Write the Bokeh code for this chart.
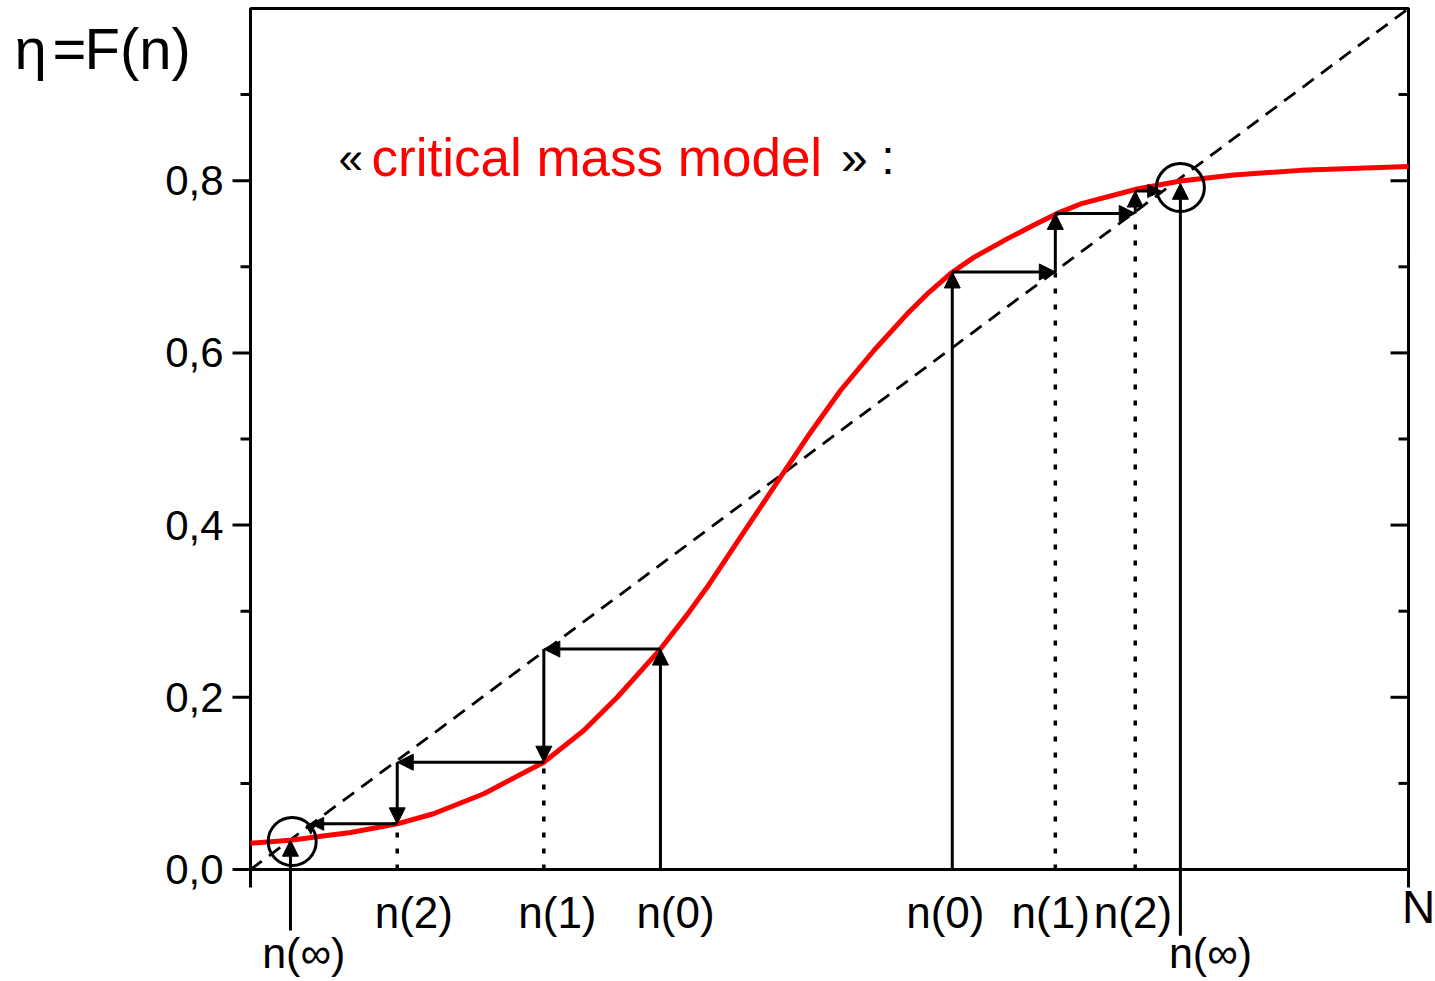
import math
from bokeh.plotting import figure
from bokeh.models import Range1d, Arrow, NormalHead
from bokeh.core.properties import value
from bokeh.embed import file_html
from bokeh.resources import INLINE

# ---- data ----
curve_x = [0.0, 0.0345, 0.0576, 0.0864, 0.1267, 0.158, 0.2015, 0.2533, 0.2878, 0.3167,
           0.354, 0.3771, 0.3944, 0.4231, 0.4577, 0.4807, 0.495, 0.5095, 0.5383, 0.5671,
           0.5844, 0.606, 0.6246, 0.6534, 0.6765, 0.6966, 0.7168, 0.7657, 0.8031, 0.849,
           0.9067, 1.0]
curve_y = [0.0305, 0.034, 0.038, 0.043, 0.053, 0.0647, 0.088, 0.1246, 0.1614, 0.200,
           0.256, 0.296, 0.328, 0.386, 0.4556, 0.502, 0.529, 0.5563, 0.6028, 0.6454,
           0.6685, 0.6937, 0.711, 0.7324, 0.7485, 0.762, 0.773, 0.7904, 0.7997, 0.8066,
           0.812, 0.8165]

diag_x = [0.0, 1.0]
diag_y = [0.0, 1.0]

left_n = [0.354, 0.2533, 0.1267, 0.052]     # n(0), n(1), n(2), n(3)
left_F = [0.256, 0.1246, 0.053, 0.041]      # F(n(k))
right_n = [0.606, 0.695, 0.764, 0.786]
right_F = [0.694, 0.762, 0.788, 0.788]

n_inf = [0.0345, 0.803]
n_inf_top = [0.034, 0.797]
n_inf_bottom = [-0.071, -0.077]
circle_x = [0.036, 0.803]
circle_y = [0.0325, 0.792]

x_lim = [0.0, 1.0]
y_lim = [0.0, 1.0]
y_ticks = [0.0, 0.2, 0.4, 0.6, 0.8]
y_minor = [0.1, 0.3, 0.5, 0.7, 0.9]
x_ticks = [0.0, 1.0]
y_tick_labels = [f"{t:.1f}".replace(".", ",") for t in y_ticks]

n_labels = ["n(2)", "n(1)", "n(0)", "n(0)", "n(1)", "n(2)"]
n_label_x = [0.141, 0.265, 0.367, 0.600, 0.691, 0.762]
inf_labels = ["n(\u221e)", "n(\u221e)"]
inf_label_x = [0.046, 0.829]

title_parts = ["\u03b7", "=", "F(n)"]
title_offsets = [-236, -198, -166]

FONT = "Liberation Sans"

# frame covers the whole window; data 0..1 sits at the axes box
p = figure(width=1435, height=981, x_range=Range1d(-0.2159, 1.0233),
           y_range=Range1d(-0.1301, 1.0093), x_axis_type=None, y_axis_type=None,
           output_backend="svg", toolbar_location=None, title=None,
           min_border=0, min_border_left=0, min_border_right=0,
           min_border_top=0, min_border_bottom=0)
p.background_fill_color = "white"
p.border_fill_color = "white"
p.outline_line_color = None

# axes box
p.quad(left=[x_lim[0]], right=[x_lim[1]], bottom=[y_lim[0]], top=[y_lim[1]],
       fill_color=None, line_color="black", line_width=3)

# left ticks (outside) and right ticks (inside)
for xv in (x_lim[0], x_lim[1]):
    p.ray(x=[xv] * len(y_ticks), y=y_ticks, length=18, length_units="screen",
          angle=math.pi, line_color="black", line_width=3)
    p.ray(x=[xv] * len(y_minor), y=y_minor, length=10, length_units="screen",
          angle=math.pi, line_color="black", line_width=3)
# bottom ticks
p.ray(x=x_ticks, y=[y_lim[0]] * len(x_ticks), length=18, length_units="screen",
      angle=-math.pi / 2, line_color="black", line_width=3)

# tick labels
p.text(x=[x_lim[0]] * len(y_ticks), y=y_ticks, text=y_tick_labels, x_offset=-27,
       text_align="right", text_baseline="middle", text_font=value(FONT),
       text_font_size="42px", text_color="black")

# diagonal y = x
p.line(diag_x, diag_y, line_color="black", line_width=2.8, line_dash="14 9")

# red curve
p.line(curve_x, curve_y, line_color="#ff0000", line_width=5, line_join="round")


def add_arrow(x0, y0, x1, y1, size=16):
    p.add_layout(Arrow(x_start=x0, y_start=y0, x_end=x1, y_end=y1,
                       line_color="black", line_width=3,
                       end=NormalHead(size=size, fill_color="black",
                                      line_color="black", line_width=1)))


def cascade(ns, Fs):
    for k in range(len(ns)):
        y0 = 0.0 if k == 0 else Fs[k - 1]
        sz = 16 if k < len(ns) - 1 else 9
        add_arrow(ns[k], y0, ns[k], Fs[k], sz)
        if k + 1 < len(ns):
            sz2 = 16 if k + 1 < len(ns) - 1 else 13
            add_arrow(ns[k], Fs[k], ns[k + 1], Fs[k], sz2)
        if k in (1, 2):
            p.line([ns[k], ns[k]], [0.0, min(Fs[k - 1], Fs[k])], line_color="black",
                   line_width=3.5, line_dash="5 11")


cascade(left_n, left_F)
cascade(right_n, right_F)

for xi, yb, yt in zip(n_inf, n_inf_bottom, n_inf_top):
    add_arrow(xi, yb, xi, yt, 16)

p.scatter(circle_x, circle_y, marker="circle", size=48, fill_color=None,
          line_color="black", line_width=3)

# labels under the axis
p.text(x=n_label_x, y=[0.0] * len(n_label_x), text=n_labels, y_offset=43,
       text_align="center", text_baseline="middle", text_font=value(FONT),
       text_font_size="44px", text_color="black")
p.text(x=inf_label_x, y=[0.0] * len(inf_label_x), text=inf_labels, y_offset=84,
       text_align="center", text_baseline="middle", text_font=value(FONT),
       text_font_size="43px", text_color="black")
p.text(x=[x_lim[1]], y=[0.0], text=["N"], x_offset=10, y_offset=38,
       text_align="center", text_baseline="middle", text_font=value(FONT),
       text_font_size="46px", text_color="black")

# title  eta = F(n)
for part, off in zip(title_parts, title_offsets):
    p.text(x=[x_lim[0]], y=[y_lim[1]], text=[part], x_offset=off, y_offset=40,
           text_align="left", text_baseline="middle", text_font=value(FONT),
           text_font_size="58px", text_color="black")

# « critical mass model » :
p.text(x=[0.076], y=[0.827], text=["\u00ab"], text_align="left", text_baseline="middle",
       text_font=value(FONT), text_font_size="44px", text_color="black")
p.text(x=[0.1045], y=[0.827], text=["critical mass model"], text_align="left",
       text_baseline="middle", text_font=value(FONT), text_font_size="53px",
       text_color="#ff0000")
p.text(x=[0.510], y=[0.827], text=["\u00bb :"], text_align="left", text_baseline="middle",
       text_font=value(FONT), text_font_size="48px", text_color="black")

open("out.html", "w").write(file_html(p, INLINE))
